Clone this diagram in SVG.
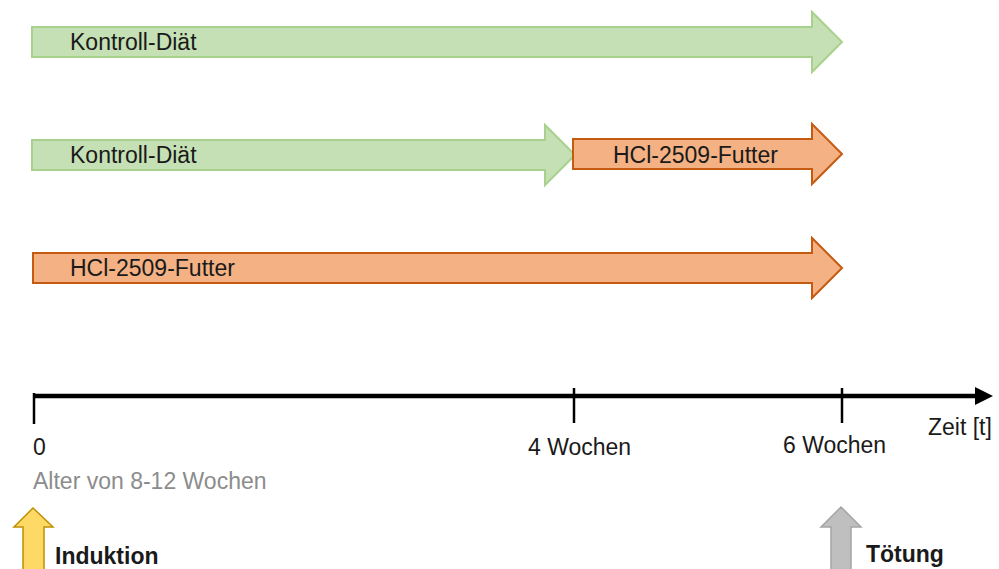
<svg xmlns="http://www.w3.org/2000/svg" width="999" height="569" viewBox="0 0 999 569">
  <style>
    text { font-family: "Liberation Sans", Arial, sans-serif; font-size: 23px; fill: #1a1a1a; }
    .green { fill: #c5e0b4; stroke: #a9d18e; stroke-width: 2; stroke-linejoin: miter; }
    .orange { fill: #f4b183; stroke: #c55a11; stroke-width: 2; stroke-linejoin: miter; }
    .axis { stroke: #000; stroke-width: 4.5; fill: none; }
    .tick { stroke: #000; stroke-width: 2.5; }
    .note { fill: #8c8c8c; }
    .bold { font-weight: bold; }
  </style>

  <!-- diet bars -->
  <g id="row1-control">
    <path class="green" d="M32,27 H812 V12 L842,42 L812,72 V57 H32 Z"/>
    <text x="70" y="50">Kontroll-Diät</text>
  </g>
  <g id="row2-control">
    <path class="green" d="M32,140 H545 V125 L575,155 L545,185 V170 H32 Z"/>
    <text x="70" y="163">Kontroll-Diät</text>
  </g>
  <g id="row2-hcl">
    <path class="orange" d="M573,139 H812 V124 L842,154 L812,184 V169 H573 Z"/>
    <text x="613" y="163">HCl-2509-Futter</text>
  </g>
  <g id="row3-hcl">
    <path class="orange" d="M33,253 H812 V238 L842,268 L812,298 V283 H33 Z"/>
    <text x="70" y="276">HCl-2509-Futter</text>
  </g>

  <!-- time axis -->
  <g id="axis">
    <line class="axis" x1="33" y1="396" x2="977" y2="396"/>
    <polygon points="975,387 993,396 975,405" fill="#000"/>
    <line class="tick" x1="34" y1="393" x2="34" y2="424"/>
    <line class="tick" x1="574" y1="388" x2="574" y2="423"/>
    <line class="tick" x1="842" y1="388" x2="842" y2="423"/>
    <text x="928" y="435">Zeit [t]</text>
    <text x="33" y="455">0</text>
    <text class="note" x="33" y="489">Alter von 8-12 Wochen</text>
    <text x="528" y="455">4 Wochen</text>
    <text x="783" y="453">6 Wochen</text>
  </g>

  <!-- events -->
  <g id="induktion">
    <path d="M33,508 L53,527 H44 V572 H23 V527 H14 Z" fill="#ffd966" stroke="#bf9000" stroke-width="1.5"/>
    <text class="bold" x="55" y="564">Induktion</text>
  </g>
  <g id="toetung">
    <path d="M841,507 L861,527 H851 V572 H831 V527 H821 Z" fill="#bfbfbf" stroke="#a5a5a5" stroke-width="1.5"/>
    <text class="bold" x="866" y="562">Tötung</text>
  </g>
</svg>
